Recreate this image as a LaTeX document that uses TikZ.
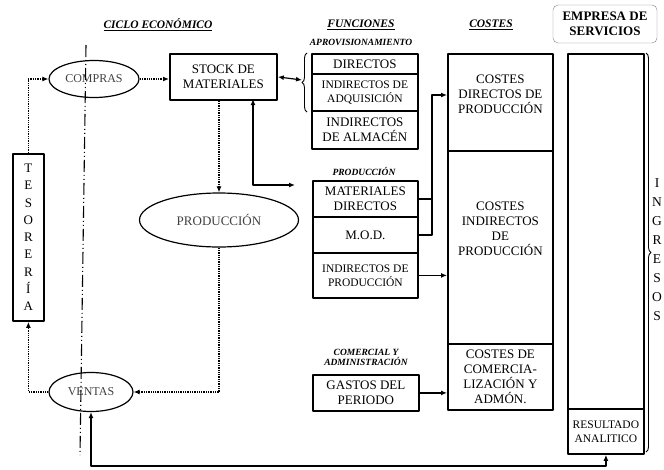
\documentclass[tikz,border=0pt]{standalone}
\usepackage{fontspec}
\setmainfont{Liberation Serif}
\usetikzlibrary{shapes.geometric,decorations.pathreplacing,arrows.meta}
\tikzset{
	caja/.style={draw, line width=1.8pt, align=center, inner sep=1pt, anchor=north west, font=\fontsize{13}{15}\selectfont},
	elipse/.style={draw, ellipse, line width=1.2pt, inner sep=0pt, text=black!75, font=\fontsize{12}{14}\selectfont},
	titulo/.style={font=\fontsize{11.5}{13}\selectfont\bfseries\itshape},
	subtit/.style={font=\fontsize{9.5}{10}\selectfont\bfseries\itshape, align=center},
	punteado/.style={densely dotted, line width=1.3pt},
	flecha/.style={line width=1.2pt},
	llave/.style={decorate, decoration={brace, amplitude=5pt}, line width=0.9pt}
}
\begin{document}
\begin{tikzpicture}[x=1pt, y=-1pt, line join=round, >={Latex[length=6pt,width=5pt]}]
	\useasboundingbox (0,0) rectangle (664,469);
	\def\xf{311}
	\def\xc{447}
	\def\xe{567}
	% titulos
	\node[titulo] (tciclo) at (158,25) {\underline{CICLO ECONÓMICO}};
	\node[titulo] (tfunc) at (361,25) {\underline{FUNCIONES}};
	\node[titulo] (tcostes) at (491,25) {\underline{COSTES}};
	\node[draw=gray, rounded corners=5pt, align=center, minimum width=104, minimum height=38, inner sep=0pt,
		font=\fontsize{13}{15}\selectfont\bfseries] (tempresa) at (605,24) {EMPRESA DE\\SERVICIOS};
	\node[subtit] (taprov) at (361,42) {APROVISIONAMIENTO};
	\node[subtit] (tprod) at (364,171) {PRODUCCIÓN};
	\node[subtit] (tcom) at (366,357) {COMERCIAL Y\\ADMINISTRACIÓN};
	% ciclo economico
	\node[elipse, minimum width=90, minimum height=37] (compras) at (94,79) {COMPRAS};
	\node[elipse, minimum width=84, minimum height=39] (ventas) at (91,392) {VENTAS};
	\node[elipse, minimum width=159, minimum height=54, font=\fontsize{13}{15}\selectfont] (produccion) at (219,220) {PRODUCCIÓN};
	\node[caja, minimum width=107, minimum height=46] (stock) at (169,53) {STOCK DE\\MATERIALES};
	\node[caja, minimum width=31, minimum height=167, font=\fontsize{13}{17.25}\selectfont] (teso) at (12,153) {T\\E\\S\\O\\R\\E\\R\\Í\\A};
	% funciones
	\node[caja, minimum width=106, minimum height=20] (directos) at (\xf,53) {DIRECTOS};
	\node[caja, minimum width=106, minimum height=37, font=\fontsize{11.5}{14}\selectfont] (adquis) at (\xf,73) {INDIRECTOS DE\\ADQUISICIÓN};
	\node[caja, minimum width=106, minimum height=38] (almacen) at (\xf,110) {INDIRECTOS\\DE ALMACÉN};
	\node[caja, minimum width=105, minimum height=36] (matdir) at (312,180) {MATERIALES\\DIRECTOS};
	\node[caja, minimum width=105, minimum height=36] (mod) at (312,216) {M.O.D.};
	\node[caja, minimum width=105, minimum height=45, font=\fontsize{11.5}{14}\selectfont] (indprod) at (312,252) {INDIRECTOS DE\\PRODUCCIÓN};
	\node[caja, minimum width=106, minimum height=36] (gastos) at (312,374) {GASTOS DEL\\PERIODO};
	% costes
	\node[caja, minimum width=105, minimum height=97, anchor=north west] (cdp) at (\xc,53) {};
	\node[anchor=north, align=center, font=\fontsize{13}{15}\selectfont] (tcdp) at ([yshift=-18pt]cdp.north) {COSTES\\DIRECTOS DE\\PRODUCCIÓN};
	\node[caja, minimum width=105, minimum height=193] (cip) at (\xc,150) {};
	\node[anchor=north, align=center, font=\fontsize{13}{15}\selectfont] (tcip) at ([yshift=-48pt]cip.north) {COSTES\\INDIRECTOS\\DE\\PRODUCCIÓN};
	\node[caja, minimum width=105, minimum height=66] (cca) at (\xc,343) {COSTES DE\\COMERCIA-\\LIZACIÓN Y\\ADMÓN.};
	% empresa de servicios
	\node[caja, minimum width=76, minimum height=355] (emp) at (\xe,53) {};
	\node[caja, minimum width=76, minimum height=45, font=\fontsize{11.5}{14}\selectfont] (res) at (\xe,408) {RESULTADO\\ANALITICO};
	\draw[llave] (646,53) -- (646,452);
	\node[align=center, font=\fontsize{13.5}{19}\selectfont] (ingresos) at (657,250) {I\\N\\G\\R\\E\\S\\O\\S};
	\draw[llave] (307,112) -- (307,53);
	\coordinate (punta) at (302,80);
	% eje
	\draw[line width=1.1pt, dash pattern=on 12pt off 3pt on 1pt off 3pt on 1pt off 3pt] (86,45) -- (80,455);
	% flujos punteados
	\draw[punteado, ->] (teso.north) |- (compras.west);
	\draw[punteado, ->] (compras.east) -- (compras.east -| stock.west);
	\draw[punteado, ->] (produccion.north |- stock.south) -- (produccion.north);
	\draw[punteado, ->] (produccion.south) |- (ventas.east);
	\draw[punteado, ->] (ventas.west) -| (teso.south);
	% flujos continuos
	\coordinate (salida) at (253,99);
	\coordinate (entrada) at (295,185);
	\draw[flecha, <->] (salida) |- (entrada);
	\draw[flecha, <->] (stock.east) -- (punta);
	\coordinate (union) at (432,95);
	\draw[flecha] (matdir.east) -- (matdir.east -| union);
	\draw[flecha, ->] (mod.east) -| (union) -- (union -| cdp.west);
	\draw[flecha, ->] (indprod.east) -- (indprod.east -| cip.west);
	\draw[flecha, ->] (gastos.east) -- (gastos.east -| cca.west);
	\coordinate (base) at (0,466);
	\draw[flecha, <->] (ventas.south) -- (ventas.south |- base) -| (res.south);
\end{tikzpicture}
\end{document}
